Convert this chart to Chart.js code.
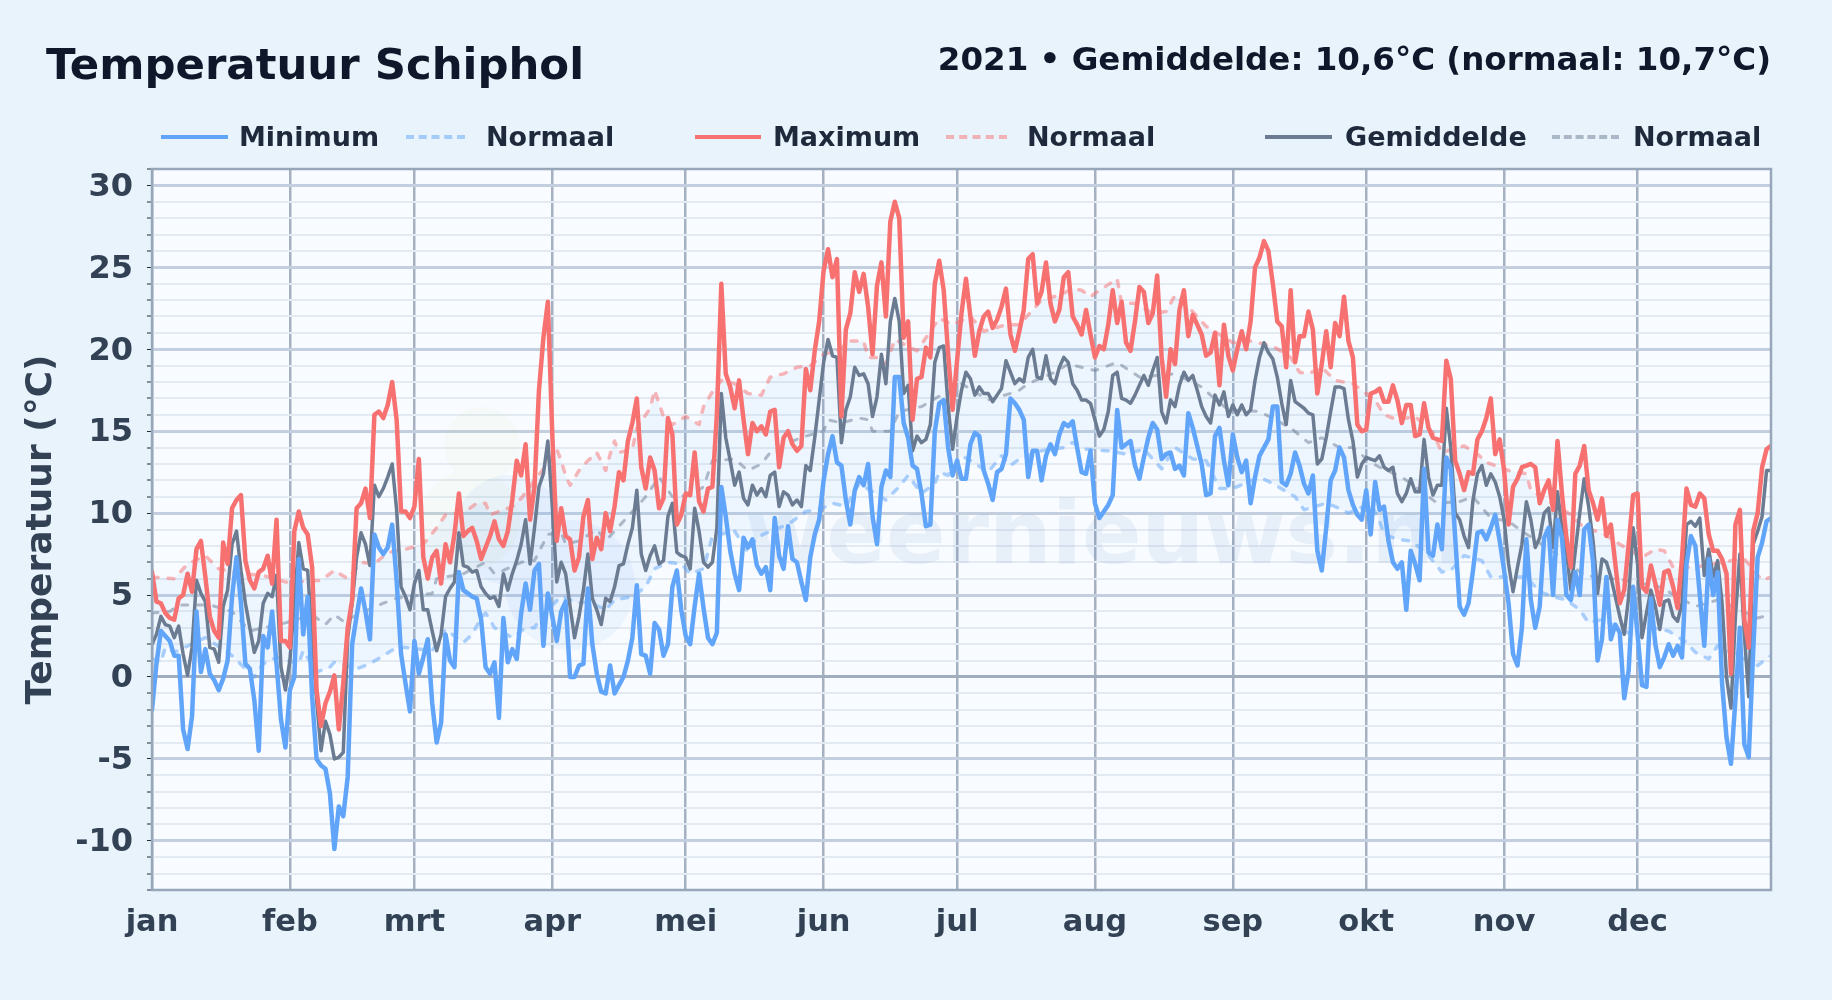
<!DOCTYPE html>
<html lang="nl">
<head>
<meta charset="utf-8">
<title>Temperatuur Schiphol</title>
<script src="https://cdn.jsdelivr.net/npm/chart.js@4"></script>
<style>
  html, body { margin: 0; padding: 0; background: #e8f3fc; }
  body { width: 1832px; height: 1000px; position: relative; overflow: hidden; font-family: "DejaVu Sans", sans-serif; font-weight: bold; }
  canvas { position: absolute; left: 0; top: 0; }
  #title { position: absolute; left: 46px; top: 38.5px; font-size: 43.4px; color: #0f172a; white-space: nowrap; }
  #subtitle { position: absolute; right: 61px; top: 40px; font-size: 32.5px; color: #0f172a; white-space: nowrap; }
  .leg { position: absolute; top: 121px; font-size: 27px; color: #1e293b; white-space: nowrap; }
  .key { position: absolute; top: 135px; height: 0; border-top: 4px solid; }
</style>
</head>
<body>
<canvas id="chart" width="1832" height="1000"></canvas>
<div id="title">Temperatuur Schiphol</div>
<div id="subtitle">2021 • Gemiddelde: 10,6°C (normaal: 10,7°C)</div>
<div id="legend"></div>
<script>
// month ticks, day of the year where each month starts
const monthStarts = [0, 31, 59, 90, 120, 151, 181, 212, 243, 273, 304, 334];
const monthLabels = ["jan", "feb", "mrt", "apr", "mei", "jun", "jul", "aug", "sep", "okt", "nov", "dec"];

// daily values 2021, ten days per row
const minValues = [
  -2,0.8,2.8,2.5,2.2,1.3,1.3,-3.2,-4.4,-2.4,
  4,0.3,1.7,0.2,-0.2,-0.8,-0.1,1,4.9,7.3,
  4.5,0.8,0.5,-1.4,-4.5,2.5,1.8,4,0.8,-2.6,
  -4.3,-0.8,0,7.2,2.6,4.9,-1.2,-5,-5.4,-5.6,
  -7.1,-10.5,-7.9,-8.5,-6.1,2,3.7,5.4,4,2.3,
  8.7,7.9,7.5,7.9,9.3,5.9,1.4,-0.4,-2.1,2.2,
  0.2,1.2,2.3,-1.6,-4,-2.8,2.6,1,0.6,6.4,
  5.3,5.1,4.9,4.8,3.5,0.6,0.2,0.9,-2.5,3.6,
  0.9,1.7,1.1,3.9,5.7,4.1,6.5,6.9,1.9,5.1,
  3.7,2.2,4,4.6,0,0,0.7,0.8,5.4,2,
  0.2,-0.9,-1,0.7,-1,-0.5,0,1,2.4,5.6,
  1.4,1.3,0.2,3.3,2.9,1.3,2,5.5,6.5,4.1,
  2.5,2,4.3,6.3,4.2,2.4,2,2.7,11.6,9.8,
  7.7,6.3,5.3,8.5,7.9,8.4,6.8,6.3,6.7,5.3,
  9.7,7.4,6.6,9.2,7.2,7,5.8,4.7,7.3,8.7,
  9.6,12,13.6,14.7,13.1,12.9,10.8,9.3,11.4,12.2,
  11.7,13,9.8,8.1,11.6,12.6,12.2,18.3,18.3,15.5,
  14.6,12.9,12.7,11.2,9.2,9.3,15,16.7,16.9,14,
  12.3,13.2,12.1,12.1,14.2,14.9,14.7,12.6,11.8,10.8,
  12.5,12.7,13.6,17,16.7,16.3,15.7,12.2,13.8,13.8,
  12,13.5,14.2,13.6,14.8,15.5,15.3,15.6,14,12.5,
  12.4,13.8,10.6,9.7,10.1,10.5,11.1,16.3,14,14.2,
  14.4,12.9,12.1,13.4,14.6,15.5,15.1,13.3,13.6,13.7,
  12.7,12.9,12.3,16.1,15.2,14.1,13,11.1,11.2,14.7,
  15.2,13.2,11.7,14.8,13.4,12.5,13.2,10.6,12.2,13.5,
  14,14.5,16.5,16.5,11.9,11.7,12.4,13.7,12.9,11.8,
  11.2,12.3,7.7,6.5,9.1,12,12.6,14,13.4,11.4,
  10.5,9.9,9.6,11.4,8.7,11.9,10.2,10.4,8.3,7,
  6.6,7,4.1,7.7,6.9,5.9,12.7,7.6,7.4,9.3,
  7.8,13.4,12.7,8.5,4.3,3.8,4.5,6.5,8.8,8.9,
  8.4,9.1,9.9,8.3,6.5,4.5,1.4,0.7,3,8.4,
  4.7,3,4.3,8.5,9.1,5,9.6,8.5,5,4.7,
  6.4,5,9,9.3,7,1,2.3,6.1,2.3,3.2,
  2.7,-1.3,0.4,5.5,2.6,-0.5,-0.6,4.8,2,0.6,
  1.2,2,1.3,1.9,1.2,6.9,8.6,8,5,1.9,
  7.2,5,6.4,-0.4,-3.7,-5.3,-1.4,3,-4.1,-4.9,
  1.6,7.3,8.2,9.5,9.7
];

const maxValues = [
  6.4,4.6,4.5,3.9,3.6,3.5,4.8,5,6.3,5.2,
  7.8,8.3,6.1,3.7,2.8,2.4,8.2,6.9,10.3,10.8,
  11.1,7.1,5.9,5.4,6.4,6.6,7.4,5.7,9.6,2.2,
  2.2,1.8,8.9,10.1,9.1,8.7,6.7,-0.8,-3,-1.6,
  -0.9,0.1,-3.2,-0.4,3,4.7,10.3,10.6,11.5,9.7,
  16,16.2,15.8,16.6,18,15.7,10.1,10.1,9.7,10.4,
  13.3,7.3,6,7.3,7.7,5.7,8.1,7,8.7,11.2,
  8.6,8.9,9.1,8.3,7.2,7.9,8.6,9.5,8.4,8,
  8.9,10.8,13.2,12.3,14.2,9.6,11.6,17.5,20.7,22.9,
  14.8,8.3,10.3,8.6,8.4,6.5,7.3,9.8,10.8,7.2,
  8.5,7.8,10,8.9,10.4,12.5,12,14.4,15.5,17,
  12.8,11.5,13.4,12.6,10.3,10.9,15.8,14.8,9.3,9.9,
  11.2,11.1,13.7,10.7,10.1,11.5,11.6,16,24,18.5,
  17.7,16.4,18.1,15.7,13.6,15.5,15,15.3,14.8,16.2,
  16.3,12.8,14.6,15,14.2,13.8,14.1,18.8,17.5,19.9,
  21.7,24.8,26.1,24.4,25.5,15.9,21.2,22.2,24.7,23.5,
  24.6,22.6,19.7,23.9,25.3,22,27.8,29,28,20.7,
  21.7,15.7,18.2,18.3,20.1,19.5,24,25.4,23.6,19.7,
  16.3,19.3,22.2,24.3,22,19.6,21.1,22,22.3,21.3,
  21.8,22.6,23.7,20.9,19.9,21.1,22.4,25.5,25.8,22.8,
  23.5,25.3,22.8,21.7,22.4,24.4,24.7,22,21.5,20.9,
  22.4,20.9,19.5,20.2,20,21.5,23.6,21.6,22.9,20.4,
  19.9,21.7,23.8,23.5,21.6,22.2,24.5,19.5,17.1,20,
  19.1,22.4,23.6,20.8,22.1,21.5,20.9,19.6,19.8,21,
  17.8,21.5,19.6,18.7,20,21.1,20,21.7,25,25.6,
  26.6,26,24,21.7,21.4,18.9,23.6,19.2,20.8,20.8,
  22.3,21.2,17.3,19.1,21.1,18.9,21.6,20.8,23.2,20.5,
  19.5,15.4,15,15.1,17.3,17.4,17.6,16.8,16.8,17.8,
  16.9,15.5,16.6,16.6,14.7,14.8,16.7,15.2,14.6,14.5,
  14.4,19.3,18.2,13.2,12.4,11.4,12.5,12.4,14.5,15,
  15.8,17,13.6,14.5,12.6,9.3,11.6,12.1,12.8,12.9,
  13,12.8,10.6,11.4,12,10.2,14.4,11.2,8.5,6.7,
  12.4,12.9,14.1,11.4,10.6,9.6,10.9,8.6,9.3,6.9,
  4.5,5.3,8.1,11.1,11.2,5.5,5.2,6.8,5.7,4.4,
  6.4,6.5,5.5,4.2,7.3,11.5,10.5,10.4,11.2,10.9,
  8.7,7.7,7.7,7.2,6.3,0.2,9.3,10.2,3.5,1.8,
  8.9,10,12.8,13.9,14.1
];

const meanValues = [
  2,2.6,3.7,3.2,3.1,2.4,3.1,1.4,0.1,1.8,
  5.9,5.1,4.6,1.8,1.7,0.9,4.3,5.3,8.1,8.9,
  6.5,4.5,3,1.5,2.2,4.5,5.1,4.9,6.2,0.6,
  -0.8,1,4.5,8.2,6.6,6.5,2.4,-1.4,-4.5,-2.7,
  -3.5,-5,-4.9,-4.6,2.4,4.5,7.3,8.8,8.1,6.8,
  11.7,11,11.5,12.2,13,10.2,5.5,4.9,4.1,5.7,
  6.5,4.1,4.1,2.8,1.6,2.6,4.9,5.4,5.8,8.8,
  6.8,6.7,6.4,6.5,5.5,5.1,4.8,4.9,4.3,6.3,
  5.3,6.3,7.1,8.1,9.6,6.9,9.1,11.6,12.4,14.4,
  10.4,5.8,7,6.3,4.3,2.4,3.7,5.3,7.5,4.8,
  4.1,3.2,4.8,4.6,5.5,6.8,6.9,8.1,9.1,11.4,
  7.5,6.5,7.4,8,6.9,7.1,9.8,10.6,7.6,7.4,
  7.3,6.6,10.3,8.9,7,6.7,7,9.1,17.3,14.6,
  13.2,11.7,12.5,10.9,10.5,11.7,11.1,11.5,11,12.3,
  12.5,10.4,11.3,11.1,10.5,10.8,10.4,12.9,12.6,14.6,
  16.9,19.2,20.6,19.6,19.5,14.3,16.3,17.1,18.9,18.4,
  18.5,17.9,15.9,17.1,19.7,17.9,21.7,23.1,21.7,17.3,
  17.8,13.8,14.7,14.3,14.5,15.4,19.2,20.1,20.2,16.5,
  13.9,15.9,17.5,18.6,18.2,17.2,17.7,17.3,17.3,16.8,
  17.2,17.6,19.3,18.6,17.9,18.2,18,19.5,20,18.3,
  18.2,19.6,18.2,17.9,18.9,19.5,19.2,17.9,17.5,16.9,
  16.9,16.7,15.7,14.7,15.1,16.2,18.4,18.6,17,16.9,
  16.7,17.2,17.8,18.4,17.8,18.7,19.5,16.2,15.5,16.9,
  16.5,17.8,18.6,18.1,18.4,17.5,16.5,15.9,15.5,17.2,
  16.6,17.4,15.9,16.6,16,16.6,16,16.3,18.1,19.5,
  20.4,19.8,19.4,18.3,16.7,15.4,18.1,16.8,16.6,16.4,
  16.1,16,13,13.3,14.6,16.2,17.7,17.7,17.6,15.7,
  14.4,12.2,13,13.4,13.3,13.2,13.5,12.8,12.6,12.8,
  11.2,10.7,11.2,12.1,11.3,11.3,14.5,12.2,11.1,11.7,
  11.7,16.4,14,10,9.6,8.6,7.9,10.8,12.4,12.9,
  11.7,12.4,11.9,11,9.6,6.9,5.2,6.7,8.1,10.7,
  9.6,7.9,8.5,10,10.3,7.9,11.3,9.1,7.7,5.3,
  7.7,10,12.1,10.4,8.3,5.1,7.2,7,6.1,4.9,
  3.7,2.6,4.9,9.1,6.9,2.4,3.9,5.3,4.3,2.9,
  4.6,4.7,3.7,3.4,4.5,9.3,9.5,9.2,9.7,6.2,
  7.8,6.1,7.1,4.5,0,-1.9,3.7,7.5,2.6,-1.2,
  8.1,8.9,9.8,12.6,12.6
];

// normals at the days listed
const normMinDays = [0,2,3,5,12,18,21,23,25,28,33,34,37,40,41,46,49,52,55,57,63,66,70,72,74,75,77,81,84,86,88,92,96,98,102,104,108,111,113,116,119,121,124,126,131,134,136,139,143,147,150,153,156,159,165,168,170,173,176,177,179,182,184,188,191,193,195,200,205,207,210,215,219,223,227,230,234,237,240,243,249,252,257,259,264,266,269,274,276,277,280,283,285,287,290,292,295,299,301,305,309,312,315,318,321,323,326,334,337,341,345,347,350,352,361,364];
const normMinValues = [1.1,0.9,1.8,1.5,2.4,1.3,0.5,0,0.8,1.2,0.8,1.6,0.3,0.6,0.9,0.5,0.8,1.3,1.8,1.8,1.6,2.9,2.1,2.6,3.6,3.9,3,2.4,3,3,3.9,4.9,4.5,4.6,4.1,4.7,4.9,5.5,6.6,7,6.9,6.3,6.6,8.6,8.9,7.6,8.5,8.9,9.3,10.1,10.2,10.6,10.4,11.8,10.8,11.6,12.3,11.2,11.8,12.5,12.3,13.5,13.2,12.5,13.5,12.9,13.3,13.8,14,14.3,13.9,13.8,13.6,13.9,12.7,14,13.3,13.2,11.5,11.5,12.2,11.8,11,10.2,10.6,10.4,10,10.6,9.5,8.7,8.4,8.3,7.9,7.4,6.4,6.5,7.4,7.1,6.1,6.1,6.1,5.2,4.9,4.7,4.1,3.3,3.5,2.4,3,2.8,2.1,1.5,1.1,1.9,0.7,1.3];

const normMaxDays = [0,5,8,12,15,20,25,30,38,41,44,47,50,53,57,61,64,66,69,71,73,75,76,78,81,83,88,91,92,93,94,96,98,100,102,103,104,105,108,109,112,113,114,115,117,120,123,124,126,128,131,134,137,139,142,145,148,151,154,157,160,161,163,165,167,172,174,177,180,184,187,192,195,200,204,207,209,211,213,217,218,221,225,228,230,234,237,243,247,252,256,258,260,263,266,270,273,275,277,280,284,288,290,295,298,300,303,305,309,310,319,322,326,330,335,338,340,342,347,355,358,362,364];
const normMaxValues = [6.1,6,6.9,7.4,6.6,6.3,6.2,5.8,5.9,6.5,6,7,6.9,7.6,7.8,8.1,9.1,9.9,10,10.2,10.6,10.6,9.9,10.1,10.4,10.9,12.7,13.9,13.2,12.3,11.7,12.6,13.2,13.7,12.6,13.6,14.4,13.7,13.9,15.2,16.4,17.5,16.7,15.9,15.4,15.9,15.4,16.5,17.4,18.1,17.9,17.3,17.2,18.3,18.5,18.9,19,19.7,19.9,20.5,20.5,19.5,19.5,19.1,20.6,19.9,20.7,21.9,21.5,22,21.1,21.5,21.5,23,23.3,23.7,23.6,23.2,23.6,24.3,22.8,22.8,22.2,22.3,23.3,22.3,21.4,20.4,20.5,20.2,19.5,18.6,18.5,18.9,18.1,17.9,17.3,16.9,16,15.7,15.9,14.9,13.7,14.1,13.6,13.1,12.8,12.6,12.4,11.4,9.9,9.1,8.8,8.1,7.3,7.8,7.7,6.7,6.7,7.1,7.2,5.9,6.1];

const normMeanDays = [0,4,6,9,13,18,22,25,30,36,39,41,43,47,52,55,63,64,70,75,77,79,83,86,89,92,93,96,100,102,105,111,114,117,121,124,126,131,134,137,139,143,147,151,152,155,159,161,162,166,168,173,178,182,188,193,195,197,203,206,212,217,222,230,236,238,242,249,256,260,263,267,270,274,276,281,289,294,297,301,305,308,318,322,331,339,347,352,361,364];
const normMeanValues = [3.9,4,4.4,4.4,4.4,4,2.8,3,3.3,3.8,3.2,3.8,3.4,3.9,4.5,4.8,5.1,6,6.3,7,6.3,6.5,7,7.1,8.7,8.8,8.1,8.3,9,8.3,9.2,11,12.2,11,11.1,11.6,13.2,13.3,12.6,13,13.7,14.3,14.7,15,15.7,15.5,15.8,15.7,15,15,16.2,16.5,17.3,17.9,16.9,17.3,17.5,17.9,18.6,19.1,18.7,19.2,18.3,18.5,17.7,17.2,16.3,16.2,15.2,14.3,14.6,14,14,13.1,12.8,12.2,10.6,10.7,11,9.7,9.5,8.9,7.1,6.2,5.9,5.5,4.3,4.7,3.6,3.8];

const daily = values => values.map((y, i) => ({ x: i, y }));
const picked = (days, values) => days.map((x, i) => ({ x, y: values[i] }));

const meanColor = "#6b7b91";

const legendItems = [
  { label: "Minimum", color: "#60a5fa", from: 161, to: 228, text: 239 },
  { label: "Normaal", color: "#60a5fa80", dash: true, from: 406, to: 465, text: 486 },
  { label: "Maximum", color: "#f87171", from: 695, to: 761, text: 773 },
  { label: "Normaal", color: "#f8717180", dash: true, from: 946, to: 1007, text: 1027 },
  { label: "Gemiddelde", color: meanColor, from: 1265, to: 1332, text: 1345 },
  { label: "Normaal", color: meanColor + "80", dash: true, from: 1552, to: 1619, text: 1633 }
];

// legend is plain html, the groups are spaced unevenly
const legendBox = document.getElementById("legend");
legendItems.forEach(item => {
  const key = document.createElement("div");
  key.className = "key";
  key.style.left = item.from + "px";
  key.style.width = (item.to - item.from) + "px";
  key.style.borderTop = "4px " + (item.dash ? "dashed " : "solid ") + item.color;
  legendBox.appendChild(key);
  const span = document.createElement("div");
  span.className = "leg";
  span.style.left = item.text + "px";
  span.textContent = item.label;
  legendBox.appendChild(span);
});

// plot background, faint watermark and frame
const plotDecor = {
  id: "plotDecor",
  beforeDraw(chart) {
    const { ctx, chartArea: a } = chart;
    ctx.save();
    ctx.fillStyle = "#f8fbff";
    ctx.fillRect(a.left, a.top, a.width, a.height);
    ctx.restore();
    // y labels sit a little lower than the chart.js middle
    chart.scales.y.getLabelItems().forEach(item => { item.options.translation[1] += 2; });
  },
  beforeDatasetsDraw(chart) {
    const { ctx } = chart;
    ctx.save();
    ctx.fillStyle = "rgba(190,210,90,0.05)";
    ctx.beginPath();
    ctx.arc(482, 445, 38, 0, Math.PI * 2);
    ctx.arc(470, 520, 50, 0, Math.PI * 2);
    ctx.fill();
    ctx.fillStyle = "rgba(59,130,246,0.06)";
    ctx.beginPath();
    ctx.arc(510, 530, 55, 0, Math.PI * 2);
    ctx.arc(570, 585, 65, 0, Math.PI * 2);
    ctx.fill();
    ctx.fillStyle = "rgba(30,100,170,0.075)";
    ctx.font = "bold 88px 'DejaVu Sans'";
    ctx.textBaseline = "alphabetic";
    ctx.fillText("weernieuws.nl", 745, 563);
    ctx.restore();
  },
  afterDraw(chart) {
    const { ctx, chartArea: a } = chart;
    ctx.save();
    ctx.strokeStyle = "#98a6ba";
    ctx.lineWidth = 2.5;
    ctx.strokeRect(a.left, a.top, a.width, a.height);
    ctx.restore();
  }
};

new Chart(document.getElementById("chart"), {
  type: "line",
  plugins: [plotDecor],
  data: {
    datasets: [
      { label: "Minimum", data: daily(minValues), borderColor: "#60a5fa", borderWidth: 4.5, order: 1 },
      { label: "Normaal", data: picked(normMinDays, normMinValues), borderColor: "#60a5fa80", borderWidth: 3.5, borderDash: [6, 10], order: 6 },
      { label: "Maximum", data: daily(maxValues), borderColor: "#f87171", borderWidth: 4.5, order: 2 },
      { label: "Normaal", data: picked(normMaxDays, normMaxValues), borderColor: "#f8717180", borderWidth: 3.5, borderDash: [6, 10], order: 5,
        fill: { target: 1 }, backgroundColor: "rgba(96,165,250,0.07)" },
      { label: "Gemiddelde", data: daily(meanValues), borderColor: meanColor, borderWidth: 3.5, order: 3 },
      { label: "Normaal", data: picked(normMeanDays, normMeanValues), borderColor: meanColor + "80", borderWidth: 3, borderDash: [6, 10], order: 4 }
    ]
  },
  options: {
    responsive: false,
    animation: false,
    devicePixelRatio: 1,
    parsing: false,
    layout: { padding: { top: 169, right: 61, left: 0, bottom: 0 } },
    elements: {
      point: { radius: 0 },
      line: { tension: 0, fill: false, borderJoinStyle: "round", borderCapStyle: "round" }
    },
    plugins: { legend: { display: false }, title: { display: false }, tooltip: { enabled: false } },
    scales: {
      x: {
        type: "linear",
        min: 0,
        max: 364,
        afterBuildTicks: scale => { scale.ticks = monthStarts.map(value => ({ value })); },
        afterFit: scale => { scale.height = 110; },
        grid: { color: "#a5b1c2", lineWidth: 2.5, drawTicks: false },
        border: { display: false },
        ticks: {
          autoSkip: false,
          maxRotation: 0,
          padding: 15,
          color: "#334155",
          font: { family: "DejaVu Sans", size: 30.5, weight: "bold" },
          callback: value => monthLabels[monthStarts.indexOf(value)]
        }
      },
      y: {
        type: "linear",
        min: -13,
        max: 31,
        afterFit: scale => { scale.width = 152; },
        title: {
          display: true,
          text: "Temperatuur (°C)",
          color: "#334155",
          padding: { top: 20, bottom: 0 },
          font: { family: "DejaVu Sans", size: 36, weight: "bold" }
        },
        grid: {
          color: c => c.tick.value === 0 ? "#a0adbf" : (c.tick.value % 5 === 0 ? "#c3cfde" : "#e4eaf2"),
          lineWidth: c => c.tick.value % 5 === 0 ? 3 : 2,
          tickColor: "#1e293b",
          tickWidth: 1,
          tickLength: 5
        },
        border: { display: false },
        ticks: {
          stepSize: 1,
          autoSkip: false,
          padding: 14,
          color: "#334155",
          font: { family: "DejaVu Sans", size: 32, weight: "bold" },
          callback: value => value % 5 === 0 ? String(value) : ""
        }
      }
    }
  }
});
</script>
</body>
</html>
